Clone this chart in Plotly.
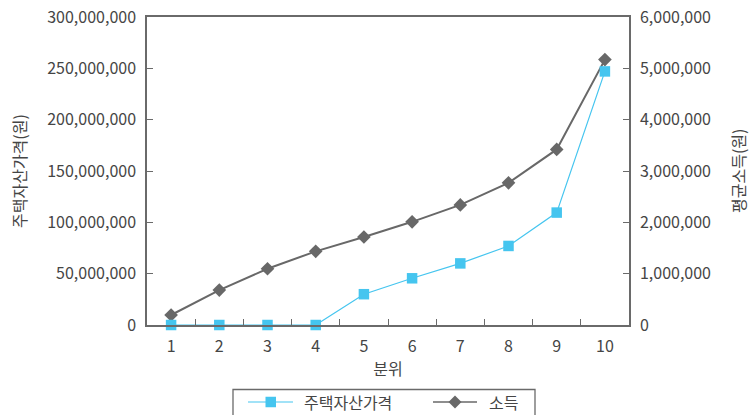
import plotly.graph_objects as go

# Decile groups and the two series
deciles = ["1", "2", "3", "4", "5", "6", "7", "8", "9", "10"]
house_price = [0, 0, 0, 0, 30_000_000, 45_500_000, 60_000_000, 77_000_000, 109_500_000, 247_000_000]
avg_income = [195_000, 680_000, 1_095_000, 1_435_000, 1_715_000, 2_010_000, 2_340_000, 2_770_000, 3_420_000, 5_170_000]

house_name = "주택자산가격"
income_name = "소득"

W, H = 751, 415
ML, MR, MT, MB = 147, 122, 17, 90
PW, PH = W - ML - MR, H - MT - MB

FONT = "Noto Sans CJK KR"
TXT = "#454545"
AX = "#6a6a6a"
BLUE = "#45c5ef"
GREY = "#686868"


def fx(xp):
    return (xp - ML) / PW


def fy(yp):
    return (H - MB - yp) / PH


fig = go.Figure()

# income on the primary (right-side) axis, house prices on the overlaid left axis
fig.add_trace(go.Scatter(
    x=deciles, y=avg_income, name=income_name, yaxis="y",
    mode="lines+markers",
    line=dict(color=GREY, width=2),
    marker=dict(symbol="diamond", size=10.5, color=GREY),
    cliponaxis=False, showlegend=False,
))
fig.add_trace(go.Scatter(
    x=deciles, y=house_price, name=house_name, yaxis="y2",
    mode="lines+markers",
    line=dict(color=BLUE, width=1.2),
    marker=dict(symbol="square", size=10.5, color=BLUE),
    cliponaxis=False, showlegend=False,
))

tickfont = dict(family=FONT, size=16, color=TXT)

fig.update_layout(
    width=W, height=H,
    margin=dict(l=ML, r=MR, t=MT, b=MB, autoexpand=False),
    paper_bgcolor="white", plot_bgcolor="white",
    font=dict(family=FONT, size=16, color=TXT),
    xaxis=dict(
        type="category", range=[-0.5, 9.5],
        showline=True, linecolor=AX, linewidth=1.5, mirror=True,
        ticks="inside", tickson="boundaries", ticklen=6, tickcolor=AX,
        showgrid=False, zeroline=False,
        tickfont=tickfont, ticklabelstandoff=6,
        title=dict(text="분위", font=dict(family=FONT, size=16, color=TXT), standoff=8),
    ),
    yaxis=dict(
        side="right", range=[0, 6_000_000], dtick=1_000_000,
        tickformat=",d", showline=True, linecolor=AX, linewidth=1.5,
        ticks="inside", ticklen=6, tickcolor=AX,
        showgrid=False, zeroline=False,
        tickfont=tickfont, ticklabelstandoff=6,
    ),
    yaxis2=dict(
        overlaying="y", side="left", range=[0, 300_000_000], dtick=50_000_000,
        tickformat=",d", showline=True, linecolor=AX, linewidth=1.5,
        ticks="inside", ticklen=6, tickcolor=AX,
        showgrid=False, zeroline=False,
        tickfont=tickfont, ticklabelstandoff=6,
    ),
)

# axis titles
fig.add_annotation(text="주택자산가격(원)", xref="paper", yref="paper",
                   x=fx(19), y=fy(171), xanchor="center", yanchor="middle",
                   textangle=-90, showarrow=False,
                   font=dict(family=FONT, size=16, color=TXT))
fig.add_annotation(text="평균소득(원)", xref="paper", yref="paper",
                   x=fx(738), y=fy(171), xanchor="center", yanchor="middle",
                   textangle=-90, showarrow=False,
                   font=dict(family=FONT, size=16, color=TXT))

# legend box
fig.add_shape(type="rect", xref="paper", yref="paper",
              x0=fx(233), x1=fx(535), y0=fy(389.5), y1=fy(430),
              line=dict(color=AX, width=1.3), fillcolor="rgba(0,0,0,0)", layer="above")

ly = 402
# house price entry
fig.add_shape(type="line", xref="paper", yref="paper",
              x0=fx(248), x1=fx(293), y0=fy(ly), y1=fy(ly),
              line=dict(color=BLUE, width=1.2))
fig.add_shape(type="rect", xref="paper", yref="paper",
              x0=fx(265.5), x1=fx(276), y0=fy(ly - 5.25), y1=fy(ly + 5.25),
              line=dict(width=0), fillcolor=BLUE)
fig.add_annotation(text=house_name, xref="paper", yref="paper",
                   x=fx(302), y=fy(ly), xanchor="left", yanchor="middle", showarrow=False,
                   font=dict(family=FONT, size=16, color=TXT))
# income entry
fig.add_shape(type="line", xref="paper", yref="paper",
              x0=fx(433), x1=fx(477), y0=fy(ly), y1=fy(ly),
              line=dict(color=GREY, width=1.5))
cx, r = 455, 6.5
fig.add_shape(type="path", xref="paper", yref="paper",
              path=(f"M {fx(cx - r)},{fy(ly)} L {fx(cx)},{fy(ly - r)} "
                    f"L {fx(cx + r)},{fy(ly)} L {fx(cx)},{fy(ly + r)} Z"),
              line=dict(width=0), fillcolor=GREY)
fig.add_annotation(text=income_name, xref="paper", yref="paper",
                   x=fx(487), y=fy(ly), xanchor="left", yanchor="middle", showarrow=False,
                   font=dict(family=FONT, size=16, color=TXT))

fig.write_html("out.html")
